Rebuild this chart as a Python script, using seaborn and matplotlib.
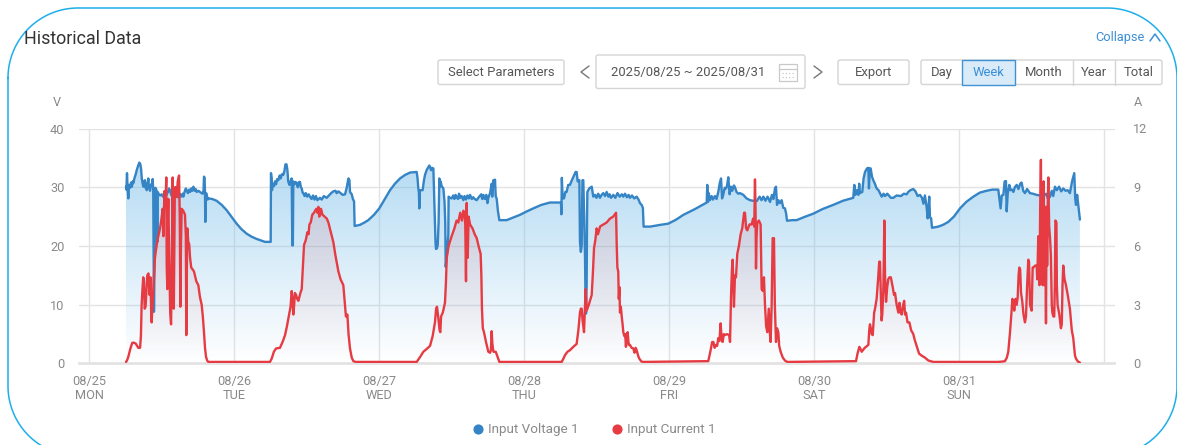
# Historical data panel - input voltage and current for one week
import numpy as np
import matplotlib
matplotlib.use("Agg")
import matplotlib.pyplot as plt
from matplotlib.colors import LinearSegmentedColormap
from matplotlib.lines import Line2D
from matplotlib.patches import FancyBboxPatch, Rectangle
import seaborn as sns

# Values: (days since 08/25 00:00, value).
day_labels = ["08/25\nMON", "08/26\nTUE", "08/27\nWED", "08/28\nTHU", "08/29\nFRI", "08/30\nSAT", "08/31\nSUN"]
volt_ticks = [0, 10, 20, 30, 40]
amp_ticks = [0, 3, 6, 9, 12]

volt_points = [
    (.255,30.1),(.258,29.6),(.262,32.4),(.266,30.0),(.271,28.1),(.276,30.4),(.283,29.9),(.290,30.8),(.296,30.1),(.302,31.0),
    (.306,30.7),(.314,31.6),(.322,32.2),(.329,32.9),(.338,33.6),(.347,34.2),(.353,34.0),(.359,33.2),(.364,31.5),(.370,30.6),
    (.375,30.1),(.380,31.0),(.386,31.2),(.390,29.9),(.394,30.6),(.398,29.5),(.404,30.4),(.409,31.5),(.414,29.9),(.421,29.4),
    (.428,30.5),(.434,30.3),(.439,31.4),(.443,29.5),(.448,8.8),(.458,29.9),(.464,29.6),(.468,28.9),(.471,20.7),(.474,29.2),
    (.482,28.8),(.490,28.6),(.501,28.8),(.510,28.4),(.520,29.0),(.528,28.5),(.536,28.8),(.545,29.2),(.552,29.8),(.559,29.4),
    (.566,28.8),(.575,28.3),(.585,29.0),(.595,28.4),(.605,29.0),(.615,28.3),(.625,28.9),(.635,28.4),(.645,28.9),(.651,28.4),
    (.660,29.3),(.668,29.8),(.674,29.4),(.682,29.0),(.690,29.6),(.697,29.2),(.705,29.8),(.712,29.4),(.720,30.1),(.728,29.4),
    (.735,29.7),(.743,29.2),(.755,29.4),(.770,29.1),(.784,28.9),(.790,29.5),(.793,31.8),(.797,31.6),(.800,29.2),(.802,24.1),
    (.805,29.0),(.811,28.9),(.818,27.9),(.825,28.1),(.850,28.0),(.880,27.7),(.915,27.0),(.949,26.1),(.985,24.9),(1.018,23.8),
    (1.05,22.9),(1.087,22.1),(1.12,21.6),(1.156,21.2),(1.19,20.9),(1.214,20.7),(1.253,20.7),(1.255,32.4),(1.259,31.6),
    (1.262,29.5),(1.268,30.6),(1.276,30.2),(1.283,31.0),(1.290,30.5),(1.298,31.4),(1.306,31.2),(1.315,32.0),(1.322,31.5),
    (1.330,32.2),(1.340,32.1),(1.348,32.8),(1.355,33.9),(1.362,33.9),(1.368,33.0),(1.374,31.0),(1.382,30.4),(1.390,31.0),
    (1.398,31.5),(1.402,20.1),(1.406,20.1),(1.409,31.0),(1.417,30.5),(1.425,30.9),(1.432,30.7),(1.440,30.0),(1.448,30.9),
    (1.455,30.9),(1.461,30.0),(1.467,29.8),(1.473,29.1),(1.478,29.0),(1.487,28.5),(1.495,29.0),(1.505,28.4),(1.515,28.8),
    (1.524,28.4),(1.535,28.0),(1.545,28.6),(1.555,27.9),(1.565,28.5),(1.575,27.8),(1.593,28.2),(1.605,27.9),(1.620,28.5),
    (1.639,28.2),(1.655,28.6),(1.670,29.0),(1.685,29.3),(1.700,29.4),(1.708,29.0),(1.720,29.3),(1.735,29.0),(1.750,28.7),
    (1.766,28.8),(1.778,30.0),(1.789,31.5),(1.796,31.2),(1.800,29.2),(1.812,28.8),(1.820,28.0),(1.828,27.6),(1.832,23.4),
    (1.850,23.5),(1.869,23.6),(1.900,24.0),(1.926,24.4),(1.965,25.3),(2.002,26.4),(2.04,28.0),(2.076,29.5),(2.11,30.6),
    (2.145,31.5),(2.18,32.1),(2.214,32.5),(2.260,32.6),(2.266,31.5),(2.271,29.8),(2.275,29.2),(2.278,26.4),(2.282,29.5),
    (2.294,29.5),(2.301,29.5),(2.309,31.0),(2.317,32.1),(2.330,33.0),(2.347,33.7),(2.353,33.4),(2.359,32.9),(2.366,33.3),
    (2.375,33.2),(2.381,28.0),(2.386,23.6),(2.390,20.5),(2.393,19.5),(2.400,19.6),(2.405,20.2),(2.411,24.0),(2.416,31.5),
    (2.420,30.1),(2.425,31.0),(2.432,30.2),(2.444,29.8),(2.452,27.5),(2.457,24.0),(2.460,16.45),(2.468,18.5),(2.478,21.85),
    (2.480,28.4),(2.490,28.2),(2.501,28.1),(2.512,28.6),(2.520,28.0),(2.528,28.7),(2.536,28.3),(2.545,28.0),(2.552,28.9),
    (2.560,28.2),(2.570,28.5),(2.582,27.8),(2.590,28.5),(2.600,27.9),(2.610,28.6),(2.620,28.1),(2.628,28.7),(2.640,28.0),
    (2.650,28.3),(2.660,28.0),(2.674,27.8),(2.685,28.2),(2.695,28.5),(2.705,28.8),(2.712,28.0),(2.720,28.7),(2.730,28.0),
    (2.740,28.7),(2.748,27.3),(2.754,28.2),(2.766,29.0),(2.777,30.6),(2.781,28.4),(2.789,31.2),(2.795,30.2),(2.800,31.3),
    (2.805,28.5),(2.812,28.0),(2.820,26.0),(2.830,24.4),(2.860,24.4),(2.880,24.4),(2.920,24.8),(2.972,25.3),(3.02,25.9),
    (3.064,26.4),(3.12,27.0),(3.179,27.4),(3.22,27.4),(3.255,27.4),(3.258,25.4),(3.261,31.6),(3.265,29.0),(3.270,28.1),
    (3.276,28.1),(3.285,29.2),(3.294,29.2),(3.305,30.4),(3.317,30.4),(3.330,31.2),(3.345,32.0),(3.356,32.6),(3.363,32.6),
    (3.370,31.0),(3.375,31.0),(3.382,31.2),(3.386,20.7),(3.392,19.0),(3.398,20.0),(3.403,31.2),(3.409,31.2),(3.415,25.0),
    (3.421,17.9),(3.425,9.5),(3.428,8.5),(3.432,13.3),(3.435,25.0),(3.437,29.2),(3.450,29.8),(3.467,30.1),(3.478,28.4),
    (3.490,28.7),(3.500,28.2),(3.512,28.9),(3.524,28.2),(3.535,28.7),(3.547,29.0),(3.559,28.5),(3.570,29.2),(3.582,28.4),
    (3.590,28.8),(3.600,28.2),(3.616,28.7),(3.630,28.2),(3.645,29.0),(3.660,28.4),(3.675,28.8),(3.685,28.4),(3.697,28.9),
    (3.710,28.3),(3.722,28.7),(3.731,28.2),(3.745,28.6),(3.760,28.1),(3.777,28.4),(3.790,27.9),(3.800,27.3),(3.811,27.0),
    (3.820,26.5),(3.825,23.3),(3.87,23.3),(3.94,23.6),(3.995,23.8),(4.05,24.5),(4.099,25.3),(4.18,26.3),(4.260,27.4),
    (4.264,30.4),(4.269,27.5),(4.274,29.0),(4.282,27.8),(4.294,28.5),(4.303,27.9),(4.317,28.5),(4.328,28.0),(4.340,29.2),
    (4.350,30.7),(4.359,31.5),(4.366,28.1),(4.375,28.8),(4.384,29.9),(4.393,29.8),(4.400,30.2),(4.409,31.7),(4.418,28.8),
    (4.428,30.1),(4.436,29.4),(4.448,30.3),(4.455,30.0),(4.466,29.2),(4.478,28.9),(4.490,29.0),(4.513,28.7),(4.535,28.1),
    (4.559,27.8),(4.580,27.7),(4.605,27.65),(4.625,28.4),(4.638,27.8),(4.651,28.4),(4.665,27.7),(4.680,28.4),(4.697,27.5),
    (4.710,28.7),(4.720,28.0),(4.731,29.8),(4.738,30.1),(4.745,27.0),(4.754,27.8),(4.765,27.3),(4.777,27.8),(4.788,26.5),
    (4.800,26.4),(4.808,25.5),(4.814,24.3),(4.850,24.4),(4.880,24.4),(4.94,25.0),(4.995,25.5),(5.06,26.3),(5.133,27.0),
    (5.20,27.7),(5.271,28.2),(5.278,30.4),(5.285,28.7),(5.295,29.5),(5.306,28.7),(5.312,30.6),(5.317,29.0),(5.333,29.2),
    (5.342,31.5),(5.352,32.6),(5.365,33.2),(5.375,33.3),(5.379,29.8),(5.385,33.2),(5.391,33.2),(5.400,31.8),(5.409,31.2),
    (5.420,30.6),(5.432,29.8),(5.445,29.5),(5.455,29.0),(5.467,28.4),(5.480,28.9),(5.490,28.5),(5.505,28.9),(5.513,28.7),
    (5.530,28.2),(5.547,28.2),(5.570,28.6),(5.600,28.5),(5.620,28.9),(5.639,28.8),(5.650,29.2),(5.665,29.5),(5.685,29.7),
    (5.700,29.3),(5.715,28.5),(5.731,28.7),(5.745,28.2),(5.755,27.2),(5.765,28.6),(5.777,26.6),(5.784,24.7),(5.795,28.4),
    (5.800,24.9),(5.808,24.7),(5.814,23.1),(5.857,23.3),(5.89,23.6),(5.926,24.1),(5.965,25.0),(6.007,26.4),(6.05,27.5),
    (6.099,28.4),(6.145,29.1),(6.191,29.4),(6.23,29.6),(6.271,29.6),(6.287,26.4),(6.295,28.6),(6.306,28.7),(6.315,31.0),
    (6.324,31.05),(6.329,25.9),(6.336,28.9),(6.347,30.4),(6.355,29.5),(6.366,29.6),(6.375,29.2),(6.385,30.0),(6.398,30.4),
    (6.410,29.7),(6.422,30.6),(6.432,30.8),(6.443,29.4),(6.455,29.0),(6.470,29.7),(6.489,29.0),(6.510,28.9),(6.536,28.7),
    (6.560,28.6),(6.582,28.5),(6.600,28.9),(6.615,28.0),(6.628,28.4),(6.640,29.4),(6.650,28.5),(6.662,30.1),(6.675,29.5),
    (6.690,30.1),(6.705,29.3),(6.719,29.8),(6.735,29.4),(6.750,29.5),(6.765,29.0),(6.780,31.0),(6.795,32.4),(6.802,28.0),
    (6.807,27.0),(6.815,28.7),(6.823,27.0),(6.834,24.5),
]

amp_points = [
    (.255,.08),(.262,.15),(.271,.34),(.285,.75),(.298,1.05),(.306,1.07),(.322,1.02),(.340,.8),(.352,.8),(.358,1.4),(.363,3.0),
    (.368,3.7),(.374,4.4),(.379,4.2),(.384,2.8),(.390,2.9),(.396,3.7),(.402,4.5),(.410,4.6),(.418,3.5),(.424,4.4),(.429,2.6),
    (.432,2.1),(.438,3.0),(.444,4.0),(.449,4.6),(.455,5.4),(.462,5.8),(.470,6.2),(.478,6.5),(.490,6.9),(.500,7.4),(.508,7.9),
    (.513,6.5),(.520,8.8),(.527,8.0),(.533,9.5),(.536,5.0),(.540,3.8),(.544,7.5),(.547,8.4),(.553,5.5),(.560,2.6),(.566,2.0),
    (.571,5.0),(.577,9.5),(.580,3.5),(.585,2.8),(.592,9.0),(.600,9.0),(.605,8.5),(.612,9.3),(.621,9.6),(.626,7.5),(.630,2.9),
    (.634,6.0),(.639,7.9),(.650,7.8),(.662,7.6),(.668,6.5),(.671,1.45),(.675,5.0),(.678,6.9),(.685,6.2),(.691,6.1),(.697,5.4),
    (.705,4.9),(.715,4.8),(.724,4.7),(.740,4.2),(.754,4.0),(.765,3.4),(.777,3.0),(.785,2.4),(.793,1.6),(.800,.8),(.807,.34),
    (.815,.15),(.823,.08),(1.248,.08),(1.260,.25),(1.275,.6),(1.290,.77),(1.317,.8),(1.335,1.1),(1.352,1.45),(1.365,1.9),
    (1.375,2.3),(1.390,2.9),(1.398,3.7),(1.402,3.4),(1.409,2.5),(1.415,3.0),(1.420,3.6),(1.428,3.5),(1.436,3.3),(1.444,3.2),
    (1.458,3.6),(1.467,3.8),(1.474,4.8),(1.483,6.05),(1.495,6.3),(1.506,6.7),(1.514,6.6),(1.520,7.1),(1.529,7.2),(1.540,7.6),
    (1.552,7.7),(1.559,7.8),(1.568,7.9),(1.576,7.7),(1.582,8.0),(1.588,7.5),(1.593,7.6),(1.600,7.9),(1.610,7.6),(1.625,7.5),
    (1.640,7.4),(1.651,7.2),(1.668,6.7),(1.685,6.2),(1.700,5.5),(1.720,4.7),(1.735,4.3),(1.754,4.0),(1.765,3.0),(1.772,2.4),
    (1.782,2.5),(1.790,1.5),(1.800,.77),(1.812,.3),(1.823,.12),(1.84,.08),(2.260,.08),(2.285,.35),(2.306,.6),(2.330,.75),
    (2.352,.9),(2.370,1.4),(2.386,2.1),(2.394,2.8),(2.400,2.9),(2.408,2.4),(2.418,1.7),(2.423,1.6),(2.428,2.4),(2.440,2.6),
    (2.455,3.1),(2.462,4.2),(2.467,5.4),(2.480,6.0),(2.501,6.5),(2.520,6.9),(2.535,7.3),(2.547,7.2),(2.560,7.7),(2.572,7.3),
    (2.582,7.8),(2.590,7.7),(2.595,7.1),(2.600,4.2),(2.603,7.5),(2.605,8.2),(2.609,6.0),(2.612,5.4),(2.618,7.5),(2.628,7.1),
    (2.645,6.9),(2.660,6.6),(2.674,6.4),(2.690,5.9),(2.701,5.6),(2.706,4.5),(2.710,2.8),(2.716,1.8),(2.724,1.6),(2.738,1.1),
    (2.754,.6),(2.766,.55),(2.772,.7),(2.777,1.65),(2.782,1.0),(2.789,.6),(2.805,.6),(2.815,.4),(2.830,.08),(3.260,.08),
    (3.272,.25),(3.283,.43),(3.300,.6),(3.317,.68),(3.340,.85),(3.363,1.0),(3.375,1.7),(3.386,2.6),(3.392,2.8),(3.398,2.8),
    (3.404,2.2),(3.414,1.6),(3.420,2.8),(3.425,3.8),(3.429,3.3),(3.432,2.7),(3.447,3.0),(3.467,3.5),(3.475,4.6),(3.483,5.9),
    (3.492,6.3),(3.501,6.9),(3.510,6.6),(3.525,7.0),(3.547,7.1),(3.570,7.2),(3.593,7.4),(3.615,7.5),(3.635,7.7),(3.639,6.2),
    (3.644,4.9),(3.650,4.7),(3.654,3.3),(3.658,3.9),(3.662,2.6),(3.668,2.9),(3.674,2.4),(3.680,2.0),(3.685,1.6),(3.692,1.4),
    (3.698,1.5),(3.703,.85),(3.709,1.5),(3.715,1.6),(3.722,.95),(3.731,.95),(3.742,.8),(3.754,.77),(3.762,.55),(3.770,.8),
    (3.777,.68),(3.787,.4),(3.795,.25),(3.810,.1),(3.823,.08),(4.271,.12),(4.285,.6),(4.298,1.1),(4.306,1.1),(4.315,.8),
    (4.324,.95),(4.332,.9),(4.340,1.3),(4.348,1.15),(4.356,2.05),(4.362,1.4),(4.370,1.1),(4.378,1.5),(4.386,1.45),(4.400,1.5),
    (4.415,1.45),(4.421,1.1),(4.425,2.5),(4.428,3.5),(4.434,4.8),(4.439,5.3),(4.444,3.9),(4.448,2.9),(4.455,4.5),(4.462,4.4),
    (4.471,5.6),(4.482,6.0),(4.494,6.6),(4.505,6.9),(4.518,7.7),(4.524,7.7),(4.532,6.9),(4.540,6.8),(4.555,7.1),(4.570,7.1),
    (4.580,7.4),(4.588,7.0),(4.593,9.4),(4.597,7.8),(4.600,4.85),(4.604,6.5),(4.609,7.2),(4.620,7.3),(4.632,7.1),(4.636,5.0),
    (4.639,3.8),(4.648,3.7),(4.655,4.4),(4.662,3.0),(4.670,1.9),(4.678,1.6),(4.688,2.8),(4.695,1.6),(4.701,1.1),(4.708,3.0),
    (4.715,6.4),(4.724,6.4),(4.730,3.0),(4.738,1.1),(4.745,1.8),(4.754,1.6),(4.760,.9),(4.770,.6),(4.785,.3),(4.800,.15),
    (4.816,.08),(5.290,.12),(5.300,.5),(5.313,.85),(5.320,.75),(5.329,.6),(5.350,.8),(5.375,.95),(5.381,1.7),(5.386,2.0),
    (5.392,1.8),(5.398,1.5),(5.405,1.45),(5.415,2.6),(5.421,2.8),(5.432,3.3),(5.442,4.3),(5.450,5.2),(5.455,5.2),(5.461,3.5),
    (5.466,2.2),(5.471,2.5),(5.478,3.7),(5.482,5.5),(5.485,7.3),(5.490,4.5),(5.497,3.15),(5.505,3.9),(5.512,4.3),(5.520,4.4),
    (5.530,4.4),(5.543,3.9),(5.552,3.5),(5.559,3.6),(5.570,3.0),(5.582,2.6),(5.590,3.1),(5.597,2.6),(5.605,2.5),(5.615,3.0),
    (5.622,3.2),(5.628,2.5),(5.635,2.6),(5.645,2.1),(5.658,2.1),(5.670,1.7),(5.685,1.5),(5.695,1.2),(5.708,.9),(5.725,.5),
    (5.743,.4),(5.765,.3),(5.789,.15),(5.823,.08),(6.271,.08),(6.300,.1),(6.317,.12),(6.330,.3),(6.340,.6),(6.352,1.6),
    (6.362,2.6),(6.368,3.3),(6.376,3.1),(6.381,2.7),(6.390,3.3),(6.398,3.0),(6.405,3.4),(6.411,4.5),(6.416,4.9),(6.422,4.8),
    (6.428,3.6),(6.436,3.2),(6.445,2.5),(6.455,2.1),(6.462,2.4),(6.470,4.0),(6.478,5.3),(6.483,5.2),(6.490,3.0),(6.501,2.7),
    (6.508,4.9),(6.513,4.9),(6.525,5.0),(6.536,5.0),(6.540,4.3),(6.547,6.5),(6.555,4.0),(6.560,8.0),(6.565,10.4),(6.570,5.0),
    (6.577,4.0),(6.584,9.3),(6.589,4.0),(6.594,8.0),(6.600,2.05),(6.604,8.0),(6.608,5.0),(6.612,8.0),(6.616,9.5),(6.622,7.0),
    (6.628,6.4),(6.634,5.5),(6.640,3.0),(6.644,2.6),(6.651,2.4),(6.657,2.4),(6.661,4.0),(6.665,7.3),(6.672,7.2),(6.675,4.0),
    (6.680,3.0),(6.692,2.5),(6.703,1.8),(6.709,2.0),(6.714,4.0),(6.719,5.0),(6.728,4.3),(6.738,4.0),(6.750,3.5),(6.765,2.8),
    (6.778,1.7),(6.788,1.3),(6.800,.4),(6.807,.25),(6.820,.1),(6.834,.05),
]

volt_t, volt_v = map(list, zip(*volt_points))
amp_t, amp_v = map(list, zip(*amp_points))

BLUE = "#3484c6"
RED = "#e63b43"
GREY = "#8a8a8a"
TEXT = "#555555"
BORDER = "#d5d5d5"

sns.set_theme(style="white")
plt.rcParams["font.family"] = ["Roboto", "DejaVu Sans"]

W, H = 1177, 445
fig = plt.figure(figsize=(W / 100, H / 100), dpi=100)
fig.patch.set_facecolor("white")

# Chart area, placed in pixels of the page.
ax = fig.add_axes([79 / W, 1 - 363.5 / H, (1115 - 79) / W, 235 / H])
ax2 = ax.twinx()
xlim = (-0.069, 7.076)


def gradient_fill(axis, t, v, rgb, alpha_top, top):
    # vertical fade down to nothing, clipped below the series
    cmap = LinearSegmentedColormap.from_list("fade", [rgb + (0.0,), rgb + (alpha_top,)])
    poly = axis.fill_between(t, v, 0, facecolor="none", edgecolor="none")
    grad = np.linspace(1, 0, 256).reshape(-1, 1)
    im = axis.imshow(grad, cmap=cmap, vmin=0, vmax=1, aspect="auto", extent=(min(t), max(t), 0, top), zorder=1)
    im.set_clip_path(poly.get_paths()[0], transform=axis.transData)


gradient_fill(ax, volt_t, volt_v, (0.44, 0.73, 0.91), 0.52, 34)
gradient_fill(ax2, amp_t, amp_v, (0.85, 0.30, 0.33), 0.20, 10)

sns.lineplot(x=volt_t, y=volt_v, ax=ax, color=BLUE, lw=1.7, estimator=None, sort=False, errorbar=None, zorder=3)
sns.lineplot(x=amp_t, y=amp_v, ax=ax2, color=RED, lw=1.7, estimator=None, sort=False, errorbar=None, zorder=3)

ax.set_xlim(xlim)
ax2.set_xlim(xlim)
ax.set_ylim(0, 40)
ax2.set_ylim(0, 12)
ax.set_xticks(range(8))
ax.set_xticklabels(day_labels + [""], fontsize=9.2, color=GREY, linespacing=1.15)
ax.set_yticks(volt_ticks)
ax.set_yticklabels(volt_ticks, fontsize=9.2, color=GREY)
ax2.set_yticks(amp_ticks)
ax2.set_yticklabels(amp_ticks, fontsize=9.2, color=GREY)
ax.tick_params(axis="x", length=0, pad=8)
ax.tick_params(axis="y", length=0, pad=10.5)
ax2.tick_params(axis="y", length=0, pad=13)
ax.grid(True, color="#e3e3e3", lw=1)
ax.set_axisbelow(True)
ax2.grid(False)
for a in (ax, ax2):
    for side, spine in a.spines.items():
        spine.set_visible(side == "bottom")
        spine.set_color("#e3e3e3")
    a.patch.set_alpha(0)
    a.set_xlabel("")
    a.set_ylabel("")

handles = [
    Line2D([], [], ls="none", marker="o", ms=6.3, color=BLUE),
    Line2D([], [], ls="none", marker="o", ms=6.3, color=RED),
]
fig.legend(handles, ["Input Voltage 1", "Input Current 1"], ncol=2, frameon=False, fontsize=9.7,
           labelcolor=GREY, loc="center", bbox_to_anchor=(592 / W, 1 - 430 / H),
           handletextpad=0.0, columnspacing=2.1, handlelength=1.5)

# Page furniture drawn in a full-figure overlay, pixel coordinates.
top = fig.add_axes([0, 0, 1, 1], zorder=5)
top.set_xlim(0, W)
top.set_ylim(H, 0)
top.axis("off")
top.patch.set_alpha(0)


def box(x0, y0, x1, y1, fc="white", ec=BORDER, r=2):
    top.add_patch(FancyBboxPatch((x0, y0), x1 - x0, y1 - y0, boxstyle=f"round,pad=0,rounding_size={r}",
                                 fc=fc, ec=ec, lw=1))


def label(x, y, s, color=TEXT, size=9.4, ha="center"):
    top.text(x, y, s, color=color, fontsize=size, ha=ha, va="center")


def round_outline(x0, y0, x1, y1, r):
    # panel border as circular arcs, it runs off the page at the bottom
    a = np.linspace(0, np.pi / 2, 40)
    xs = np.r_[x0 + r - r * np.cos(a), x1 - r + r * np.sin(a), x1 - r + r * np.cos(a), x0 + r - r * np.sin(a), x0]
    ys = np.r_[y0 + r - r * np.sin(a), y0 + r - r * np.cos(a), y1 - r + r * np.sin(a), y1 - r + r * np.cos(a), y0 + r]
    top.plot(xs, ys, color="#1eaeea", lw=1.1)


round_outline(8, 8, 1177, 456, 70)
label(24, 39, "Historical Data", color="#333333", size=12.9, ha="left")
label(1120, 37, "Collapse", color="#3a8fd6", size=9.2)
top.plot([1150, 1155, 1160], [41, 34, 41], color="#3a8fd6", lw=1.1)

box(438, 60, 564, 84.5)
label(501, 72.5, "Select Parameters")
top.plot([589, 581, 589], [66, 72, 78], color="#777777", lw=1)
box(596, 55, 805, 88.5)
label(688, 72.5, "2025/08/25 ~ 2025/08/31")
top.add_patch(Rectangle((779, 64), 18, 17, fc="none", ec="#c9c9c9", lw=0.9))
top.plot([779, 797], [69, 69], color="#c9c9c9", lw=0.9)
top.plot([782, 794], [73, 73], color="#c9c9c9", lw=0.9, ls=":")
top.plot([782, 794], [77, 77], color="#c9c9c9", lw=0.9, ls=":")
top.plot([814, 822, 814], [66, 72, 78], color="#777777", lw=1)
box(838, 60, 909, 84.5)
label(873.5, 72.5, "Export")

box(921, 60, 1162, 84.5)
for x in (1073, 1115):
    top.plot([x, x], [60, 84.5], color=BORDER, lw=1)
top.add_patch(Rectangle((962, 60), 53, 24.5, fc="#d9ebf8", ec="#3f93d5", lw=1))
label(941.5, 72.5, "Day")
label(988.5, 72.5, "Week", color="#3a8fd6")
label(1044, 72.5, "Month")
label(1094, 72.5, "Year")
label(1138.5, 72.5, "Total")
label(57, 103, "V", color=GREY, size=9.2)
label(1138, 103, "A", color=GREY, size=9.2)

plt.savefig("out.png", dpi=100)
